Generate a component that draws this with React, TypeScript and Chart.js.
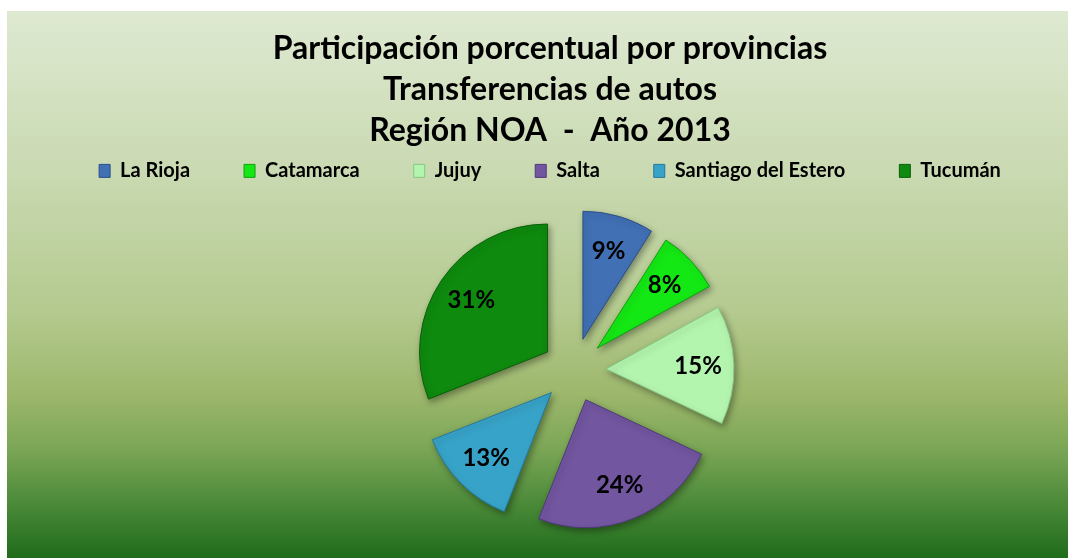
import React, { useEffect, useRef } from "react";
import { Chart, registerables } from "chart.js";

Chart.register(...registerables);

// ---- data ----
const titleLines = [
  "Participación porcentual por provincias",
  "Transferencias de autos",
  "Región NOA  -  Año 2013",
];
const provinces = ["La Rioja", "Catamarca", "Jujuy", "Salta", "Santiago del Estero", "Tucumán"];
const shares = [9, 8, 15, 24, 13, 31];

// ---- styles ----
const sliceColors = ["#4170b5", "#14e814", "#b3f5ae", "#7256a0", "#38a3c9", "#0e8a0e"];
const sliceBorders = ["#2b4f86", "#0fa00f", "#86c681", "#4f3a78", "#24799b", "#0a600a"];
const FONT = "Lato, 'Open Sans', sans-serif";
const PIE_CENTER = { x: 567, y: 359 };
const PIE_RADIUS = 128;
const EXPLODE = 32;
const LABEL_POS = 0.72;
const bgStops: [number, string][] = [
  [0, "#dee9d1"],
  [0.3, "#c9d9b1"],
  [0.55, "#b4ca8f"],
  [0.7, "#9db76c"],
  [0.8, "#7ba656"],
  [0.9, "#4b8a39"],
  [1, "#1f6c1b"],
];

const piePlugin = {
  id: "pieDecor",
  beforeDraw(chart: any) {
    const { ctx, width, height } = chart;
    const g = ctx.createLinearGradient(0, 0, 0, height);
    bgStops.forEach(([o, c]) => g.addColorStop(o, c));
    ctx.save();
    ctx.fillStyle = g;
    ctx.fillRect(0, 0, width, height);
    ctx.restore();
  },
  afterLayout(chart: any) {
    const a = chart.chartArea;
    const half = 190;
    a.left = PIE_CENTER.x - half;
    a.right = PIE_CENTER.x + half;
    a.top = PIE_CENTER.y - half;
    a.bottom = PIE_CENTER.y + half;
    a.width = 2 * half;
    a.height = 2 * half;
  },
  afterDatasetsUpdate(chart: any) {
    const meta = chart.getDatasetMeta(0);
    meta.data.forEach((arc: any) => {
      const mid = (arc.startAngle + arc.endAngle) / 2;
      arc.x += Math.cos(mid) * EXPLODE;
      arc.y += Math.sin(mid) * EXPLODE;
    });
  },
  beforeDatasetsDraw(chart: any) {
    const ctx = chart.ctx;
    ctx.save();
    ctx.shadowColor = "rgba(0,0,0,0.35)";
    ctx.shadowBlur = 6;
    ctx.shadowOffsetX = 2;
    ctx.shadowOffsetY = 3;
  },
  afterDatasetsDraw(chart: any) {
    const ctx = chart.ctx;
    ctx.restore();
    const meta = chart.getDatasetMeta(0);
    const data = chart.data.datasets[0].data as number[];
    const total = data.reduce((s, v) => s + v, 0);
    ctx.save();
    ctx.font = `bold 24px ${FONT}`;
    ctx.fillStyle = "#000";
    ctx.textAlign = "center";
    ctx.textBaseline = "middle";
    meta.data.forEach((arc: any, i: number) => {
      const mid = (arc.startAngle + arc.endAngle) / 2;
      const r = arc.outerRadius * LABEL_POS;
      ctx.fillText(
        `${Math.round((data[i] / total) * 100)}%`,
        arc.x + Math.cos(mid) * r,
        arc.y + Math.sin(mid) * r
      );
    });
    ctx.restore();
  },
};

export default function App() {
  const ref = useRef<HTMLCanvasElement | null>(null);
  useEffect(() => {
    if (!ref.current) return;
    const chart = new Chart(ref.current, {
      type: "pie",
      data: {
        labels: provinces,
        datasets: [
          {
            data: shares,
            backgroundColor: sliceColors,
            borderColor: sliceBorders,
            borderWidth: 1,
            radius: PIE_RADIUS,
            clip: false,
          } as any,
        ],
      },
      options: {
        responsive: true,
        maintainAspectRatio: false,
        animation: false,
        layout: { padding: { left: 25, right: 0, top: 0, bottom: 0 } },
        plugins: {
          tooltip: { enabled: false },
          title: {
            display: true,
            text: titleLines,
            color: "#000",
            font: { family: FONT, size: 32, weight: "bold", lineHeight: 1.28 },
            padding: { top: 17, bottom: -44 },
          },
          legend: {
            display: true,
            position: "top",
            labels: {
              color: "#000",
              font: { family: FONT, size: 20, weight: "bold" },
              boxWidth: 11,
              boxHeight: 13,
              padding: 54,
            },
          },
        },
      },
      plugins: [piePlugin],
    });
    return () => chart.destroy();
  }, []);
  return (
    <div style={{ position: "fixed", left: 7, top: 11, width: 1061, height: 547 }}>
      <canvas ref={ref} />
    </div>
  );
}
